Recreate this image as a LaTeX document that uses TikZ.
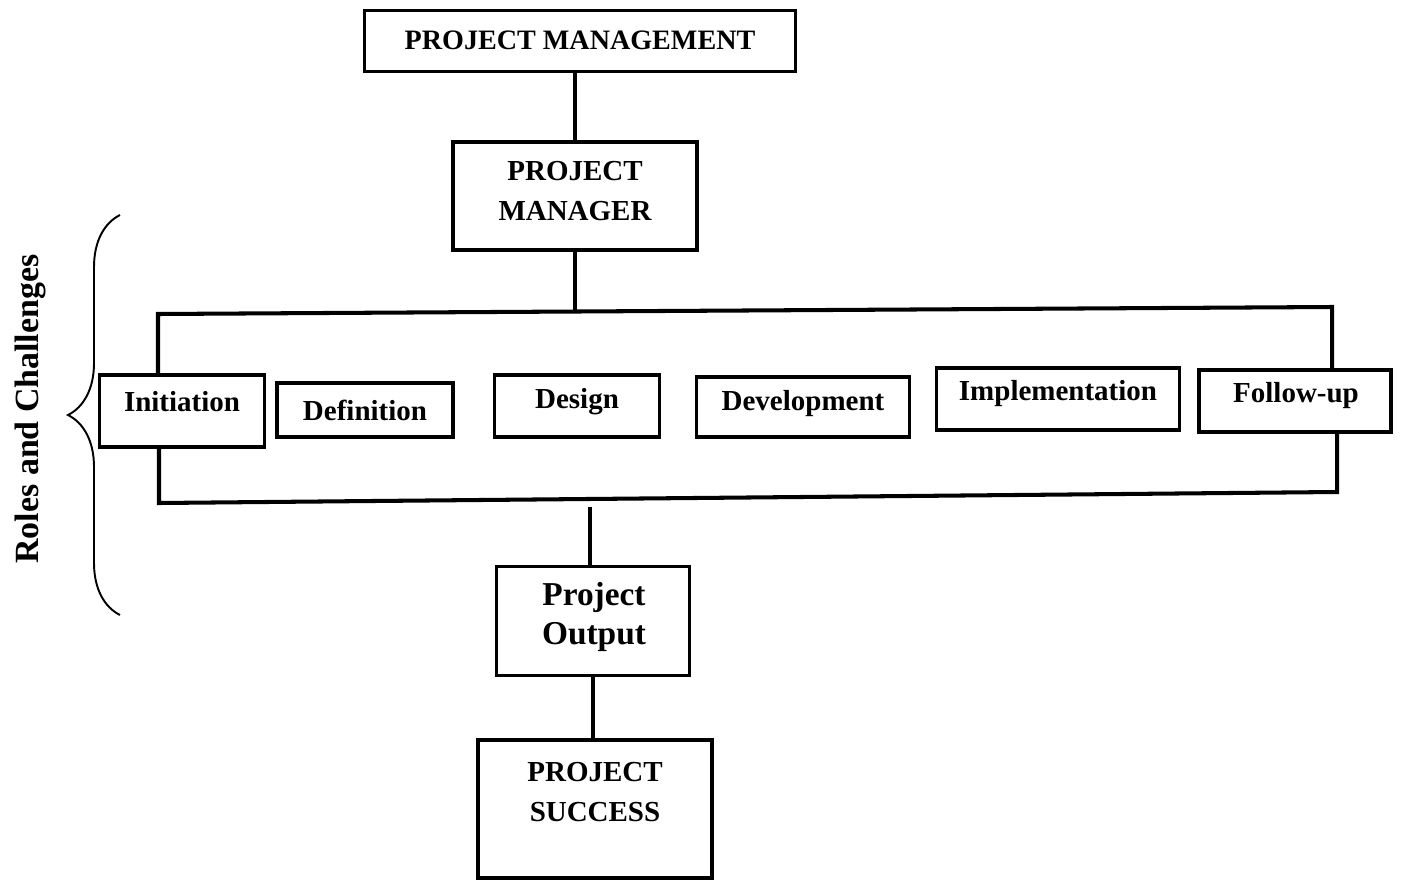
\documentclass[tikz,border=0pt]{standalone}
\usepackage{fontspec}
\setmainfont{Liberation Serif}
\usepackage{tikz}
\usetikzlibrary{positioning, decorations.pathreplacing}

\begin{document}
\begin{tikzpicture}[x=0.02cm, y=-0.02cm]
\tikzstyle{box}=[rectangle,draw,line width=2.2pt,inner sep=0pt]
\tikzstyle{txt}=[font=\bfseries\fontsize{16.5}{22.5}\selectfont,align=center,inner sep=0pt]
\tikzstyle{wire}=[line width=2.3pt]
\useasboundingbox (0,0) rectangle (1402,882);
% top of the chart
\node[box,minimum width=8.62cm,minimum height=1.22cm] (pm) at (580,41) {};
\node[txt,font=\bfseries\fontsize{16}{20}\selectfont] (pmt) at (580,40) {PROJECT MANAGEMENT};
\node[box,minimum width=4.88cm,minimum height=2.16cm] (mgr) at (575,196) {};
\node[txt] (mgrt) at (575,191) {PROJECT\\MANAGER};
% the six stages
\node[box,minimum width=3.30cm,minimum height=1.44cm] (ini) at (182,411) {};
\node[txt] (init) at (182,402) {Initiation};
\node[box,minimum width=3.52cm,minimum height=1.08cm] (def) at (365,410) {};
\node[txt] (deft) at (365,410) {Definition};
\node[box,minimum width=3.30cm,minimum height=1.24cm] (des) at (577,406) {};
\node[txt] (dest) at (577,402) {Design};
\node[box,minimum width=4.26cm,minimum height=1.20cm] (dev) at (803,407) {};
\node[txt] (devt) at (803,404) {Development};
\node[box,minimum width=4.86cm,minimum height=1.24cm] (imp) at (1058,399) {};
\node[txt] (impt) at (1058,394) {Implementation};
\node[box,minimum width=3.84cm,minimum height=1.24cm] (fol) at (1295,401) {};
\node[txt] (folt) at (1296,396) {Follow-up};
% bottom of the chart
\node[box,minimum width=3.86cm,minimum height=2.18cm] (out) at (593,621) {};
\node[txt,font=\bfseries\fontsize{19}{22.5}\selectfont] (outt) at (594,617) {Project\\Output};
\node[box,minimum width=4.68cm,minimum height=2.76cm] (succ) at (595,809) {};
\node[txt] (succt) at (595,792) {PROJECT\\SUCCESS};
% side label
\node[txt,rotate=90,font=\bfseries\fontsize{19.3}{21}\selectfont] (roles) at (30,409) {Roles and Challenges};

% bars round the stages
\coordinate (tl) at (158,314);
\coordinate (tr) at (1332,307);
\coordinate (mb) at (575,311);
\coordinate (bl) at (159,503);
\coordinate (br) at (1337,492);
\coordinate (ob) at (590,507);
\draw[wire] (ini.north -| tl) -- (tl) -- (tr) -- (fol.north -| tr);
\draw[wire] (ini.south -| bl) -- (bl) -- (br) -- (fol.south -| br);
\path[wire]
(mgr.north |- pm.south) edge (mgr.north)
(mgr.south) edge (mb)
(ob) edge (ob |- out.north)
(out.south) edge (out.south |- succ.north)
;
\draw[line width=1.1pt,decorate,decoration={brace,amplitude=1.04cm}] (120,615) -- (120,215);
\end{tikzpicture}
\end{document}
